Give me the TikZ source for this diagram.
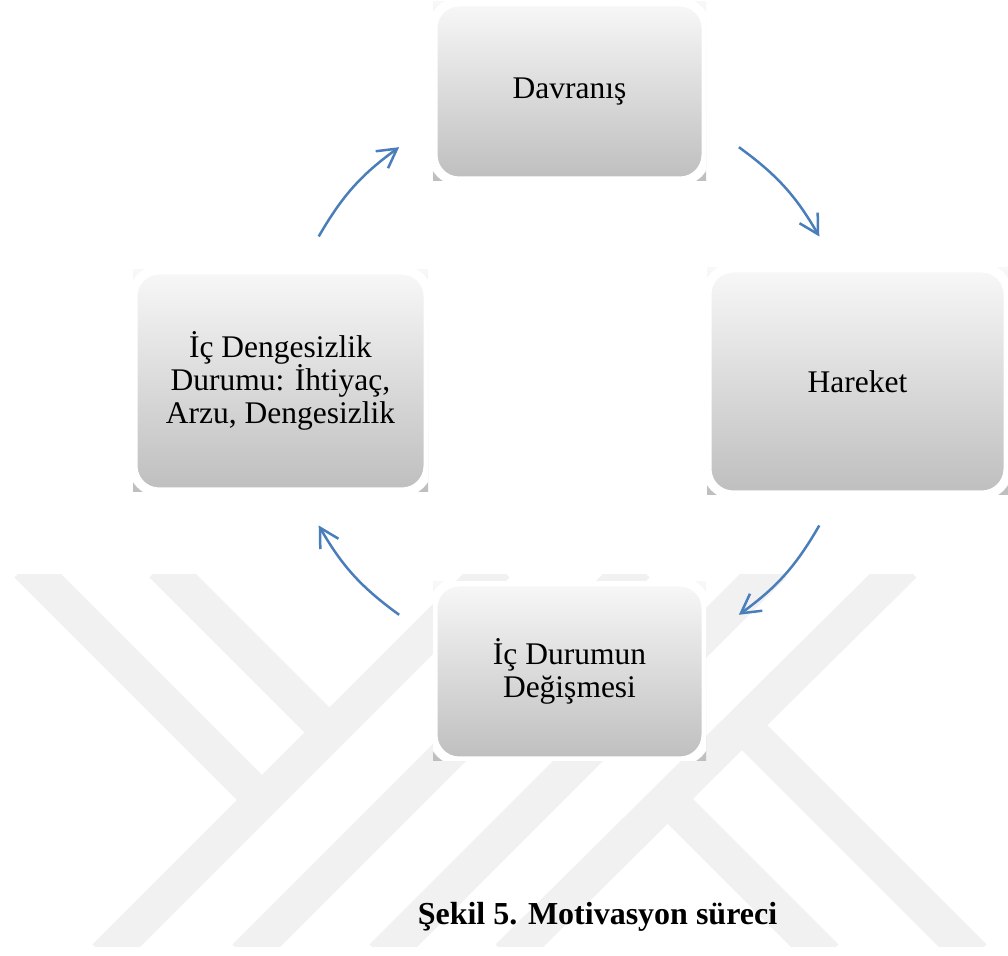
\documentclass[tikz,border=0pt]{standalone}
\usepackage{fontspec}
\setmainfont{Liberation Serif}
\usepackage{tikz}
\usetikzlibrary{arrows.meta,calc,positioning}
\definecolor{flowblue}{RGB}{74,126,187}
\definecolor{boxtop}{RGB}{248,248,248}
\definecolor{boxbot}{RGB}{190,190,190}
\definecolor{wmgray}{RGB}{241,241,241}
\newcommand{\boxfont}{\fontsize{15.75pt}{16.5pt}\selectfont}
\tikzset{
  stage/.style={rectangle, minimum width=136.5pt, minimum height=89.5pt, inner sep=0pt,
    align=center, font=\boxfont, top color=boxtop, bottom color=boxbot,
    path picture={\draw[white, line width=4.5pt, rounded corners=13pt]
      (path picture bounding box.south west) rectangle (path picture bounding box.north east);}},
  flow/.style={draw=flowblue, line width=1.25pt, -{Straight Barb[length=9.4pt,width=10.5pt]}},
  wmstripe/.style={draw=wmgray, line width=17.7pt}
}
\begin{document}
\begin{tikzpicture}[x=0.5pt, y=0.5pt]
\useasboundingbox (0,0) rectangle (1008,956);

% watermark in the background
\begin{scope}
  \clip (0,9) rectangle (1008,381);
  \draw[wmstripe] (105,-1) -- (497,391);
  \draw[wmstripe] (245,-1) -- (637,391);
  \draw[wmstripe] (382,-1) -- (774,391);
  \draw[wmstripe] (27,391) -- (262,156);
  \draw[wmstripe] (162,391) -- (330,223);
  \draw[wmstripe] (904,391) -- (508,-1);
  \draw[wmstripe] (669,156) -- (826,-1);
  \draw[wmstripe] (743,230) -- (974,-1);
\end{scope}

% the four stages
\node (davranis) [stage] at (569.5,864.5) {Davranış};
\node (hareket) [stage, minimum width=150.5pt, minimum height=113.5pt] at (857.5,574.5) {Hareket};
\node (durum) [stage] at (569.5,284.5) {İç Durumun\\Değişmesi};
\node (dengesizlik) [stage, minimum width=147.5pt, minimum height=111pt] at (280.5,575)
  {İç Dengesizlik\\Durumu: İhtiyaç,\\Arzu, Dengesizlik};

% arrow ends on a circle round the hub
\coordinate (hub) at (569,575);
\foreach \ang/\nm in {150/dengesizlik-out, 126/davranis-in, 54/davranis-out, 30/hareket-in,
                      -30/hareket-out, -54/durum-in, -126/durum-out, -150/dengesizlik-in}
  \coordinate (\nm) at ($(hub)+(\ang:289)$);

\draw[flow] (dengesizlik-out) to[bend left=12] (davranis-in);
\draw[flow] (davranis-out) to[bend left=12] (hareket-in);
\draw[flow] (hareket-out) to[bend left=12] (durum-in);
\draw[flow] (durum-out) to[bend left=12] (dengesizlik-in);

\node (caption) [anchor=base, font=\bfseries\fontsize{16pt}{19pt}\selectfont] at (597.5,31)
  {Şekil 5. Motivasyon süreci};
\end{tikzpicture}
\end{document}
